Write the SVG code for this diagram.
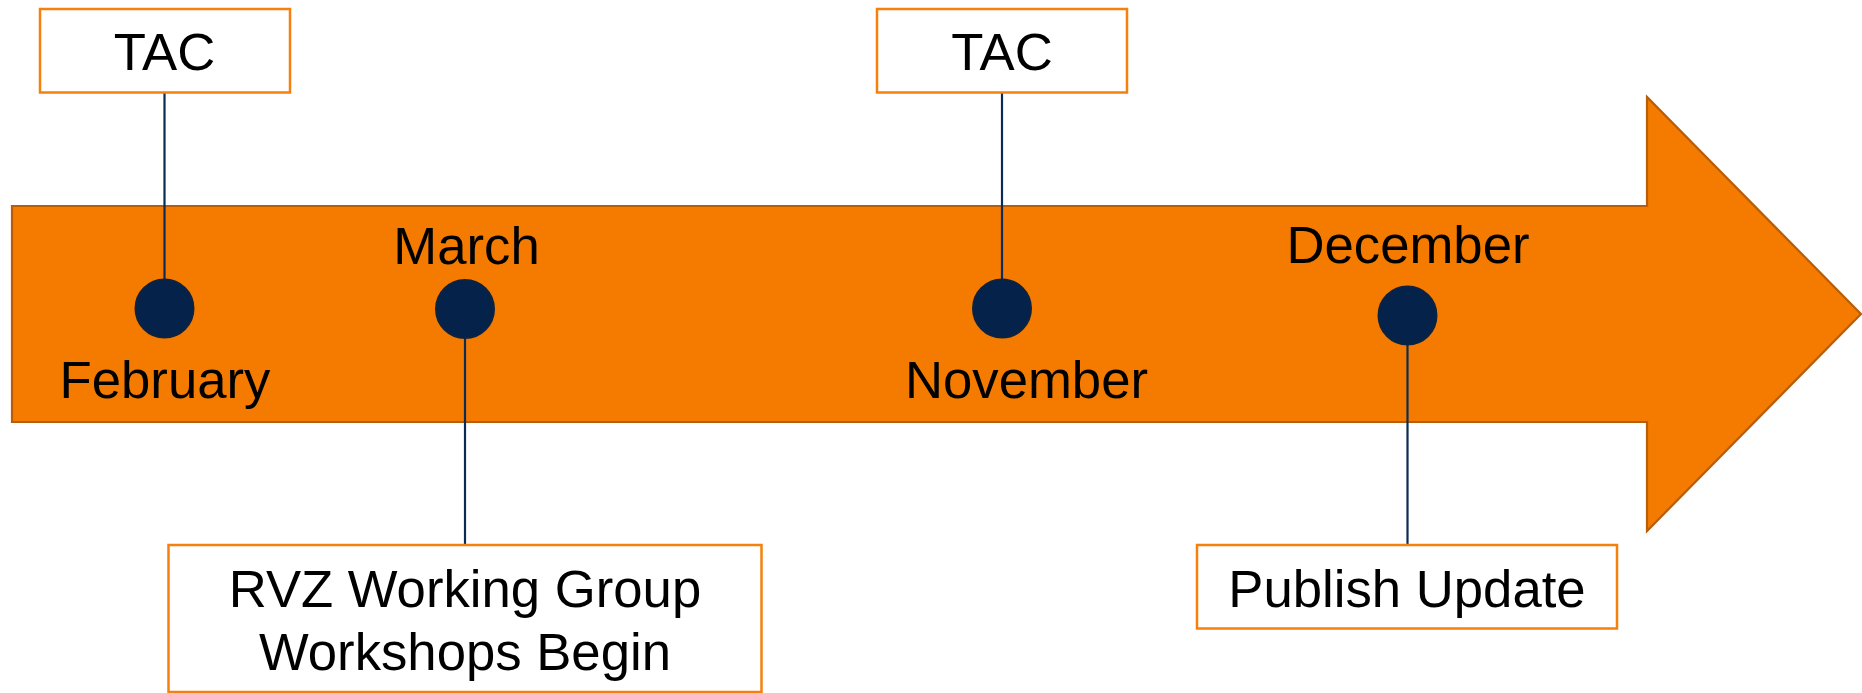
<svg xmlns="http://www.w3.org/2000/svg" width="1862" height="693" viewBox="0 0 1862 693">
<style>
  .lbl { font-family: "Liberation Sans", Arial, sans-serif; font-size: 52.7px; fill: #000; text-anchor: middle; }
  .box { fill: #fff; stroke: #F5800E; stroke-width: 2.5; }
  .dot { fill: #05224A; stroke: #0D2340; stroke-width: 2; }
  .conn { stroke: #0B2A55; stroke-width: 2.2; fill: none; }
</style>
<rect width="1862" height="693" fill="#fff"/>
<g id="arrow">
  <polygon points="12,206 1647,206 1647,97 1861,314 1647,531 1647,422 12,422" fill="#F47B00" stroke="#B85D08" stroke-width="2.2" stroke-linejoin="miter"/>
</g>
<g id="connectors">
  <line class="conn" x1="164.5" y1="92" x2="164.5" y2="280"/>
  <line class="conn" x1="465" y1="338" x2="465" y2="545"/>
  <line class="conn" x1="1002" y1="92" x2="1002" y2="280"/>
  <line class="conn" x1="1407.5" y1="344" x2="1407.5" y2="545"/>
</g>
<g id="feb">
  <circle class="dot" cx="164.5" cy="308.5" r="29"/>
  <text class="lbl" x="165" y="398">February</text>
</g>
<g id="mar">
  <circle class="dot" cx="465" cy="309" r="29"/>
  <text class="lbl" x="466.5" y="264">March</text>
</g>
<g id="nov">
  <circle class="dot" cx="1002" cy="308.5" r="29"/>
  <text class="lbl" x="1026.5" y="398">November</text>
</g>
<g id="dec">
  <circle class="dot" cx="1407.5" cy="315.5" r="29"/>
  <text class="lbl" x="1408" y="263">December</text>
</g>
<g id="tac1">
  <rect class="box" x="40" y="9" width="250" height="83.5"/>
  <text class="lbl" x="164.5" y="70">TAC</text>
</g>
<g id="tac2">
  <rect class="box" x="877" y="9" width="250" height="83.5"/>
  <text class="lbl" x="1002" y="70">TAC</text>
</g>
<g id="rvz">
  <rect class="box" x="168.5" y="545" width="593" height="147"/>
  <text class="lbl" x="465" y="606.5">RVZ Working Group</text>
  <text class="lbl" x="465" y="670">Workshops Begin</text>
</g>
<g id="publish">
  <rect class="box" x="1197" y="545" width="420" height="83.5"/>
  <text class="lbl" x="1407" y="606.5">Publish Update</text>
</g>
</svg>
